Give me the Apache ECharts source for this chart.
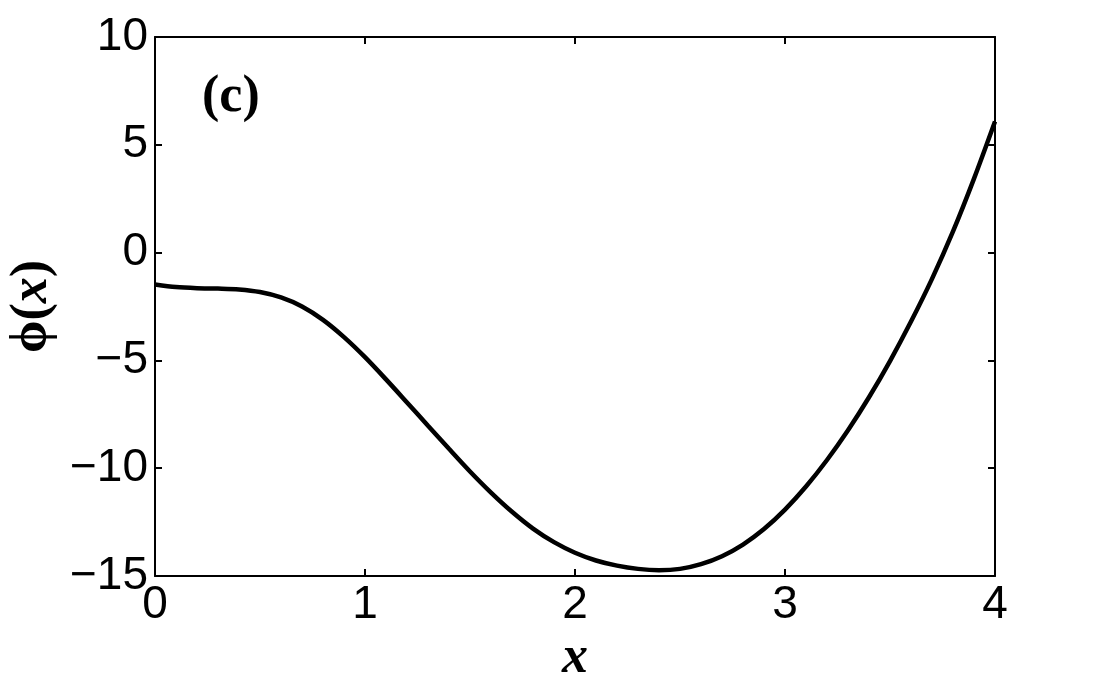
<!DOCTYPE html>
<html>
<head>
<meta charset="utf-8">
<script src="https://cdn.jsdelivr.net/npm/echarts@6/dist/echarts.min.js"></script>
<style>html,body{margin:0;padding:0;background:#fff}#c{width:1099px;height:685px}</style>
</head>
<body>
<div id="c"></div>
<script>
const xValues = [0.0,0.1,0.2,0.3,0.4,0.5,0.6,0.7,0.8,0.9,1.0,1.1,1.2,1.3,1.4,1.5,1.6,1.7,1.8,1.9,2.0,2.1,2.2,2.3,2.4,2.5,2.6,2.7,2.8,2.9,3.0,3.1,3.2,3.3,3.4,3.5,3.6,3.7,3.8,3.9,4.0];
const phiValues = [-1.48,-1.60,-1.65,-1.67,-1.71,-1.83,-2.08,-2.50,-3.12,-3.92,-4.85,-5.88,-6.95,-8.03,-9.10,-10.15,-11.13,-12.02,-12.80,-13.43,-13.92,-14.28,-14.52,-14.67,-14.73,-14.67,-14.45,-14.08,-13.54,-12.82,-11.92,-10.85,-9.62,-8.24,-6.71,-5.03,-3.20,-1.22,0.98,3.43,6.08];
const xTickValues = [0,1,2,3,4];
const xTickLabels = ['0','1','2','3','4'];
const yTickValues = [-15,-10,-5,0,5,10];
const yTickLabels = ['\u221215','\u221210','\u22125','0','5','10'];
const panelLabel = '(c)';
const xName = 'x';

const chart = echarts.init(document.getElementById('c'), null, {renderer:'canvas'});
const axisLine = {show:true, onZero:false, lineStyle:{color:'#000', width:2}};
const tick = {show:true, inside:true, length:7, lineStyle:{color:'#000', width:2}};
const lblFont = {color:'#000', fontFamily:'Liberation Sans', fontSize:46};
function xFmt(v){ const i = xTickValues.indexOf(v); return i>=0 ? xTickLabels[i] : ''; }
function yFmt(v){ const i = yTickValues.indexOf(v); return i>=0 ? yTickLabels[i] : ''; }

chart.setOption({
  animation:false,
  backgroundColor:'#fff',
  grid:{left:155, right:104, top:37, bottom:109, containLabel:false, outerBoundsMode:'none'},
  xAxis:[
    {type:'value', min:0, max:4, interval:1, position:'bottom',
     axisLine, axisTick:tick, splitLine:{show:false},
     axisLabel:Object.assign({margin:6, formatter:xFmt}, lblFont),
     name:xName, nameLocation:'middle', nameGap:44,
     nameTextStyle:{fontFamily:'Liberation Serif', fontWeight:'bold', fontStyle:'italic', fontSize:52, color:'#000'}},
    {type:'value', min:0, max:4, interval:1, position:'top',
     axisLine, axisTick:tick, splitLine:{show:false}, axisLabel:{show:false}}
  ],
  yAxis:[
    {type:'value', min:-15, max:10, interval:5, position:'left',
     axisLine, axisTick:tick, splitLine:{show:false},
     axisLabel:Object.assign({margin:7, formatter:yFmt}, lblFont),
     name:'{a|\u03D5(}{b|x}{a|)}', nameLocation:'middle', nameGap:96, nameRotate:90,
     nameTextStyle:{rich:{
       a:{fontFamily:'Liberation Serif', fontWeight:'bold', fontSize:52, color:'#000'},
       b:{fontFamily:'Liberation Serif', fontWeight:'bold', fontStyle:'italic', fontSize:52, color:'#000'}
     }}},
    {type:'value', min:-15, max:10, interval:5, position:'right',
     axisLine, axisTick:tick, splitLine:{show:false}, axisLabel:{show:false}}
  ],
  graphic:[{type:'text', left:202, top:72, style:{text:panelLabel, font:'bold 52px "Liberation Serif"', fill:'#000'}}],
  series:[{
    type:'line', xAxisIndex:0, yAxisIndex:0,
    data:xValues.map((x,i)=>[x, phiValues[i]]),
    smooth:0.3, showSymbol:false, symbol:'none',
    lineStyle:{color:'#000', width:4.5}
  }]
});
</script>
</body>
</html>
